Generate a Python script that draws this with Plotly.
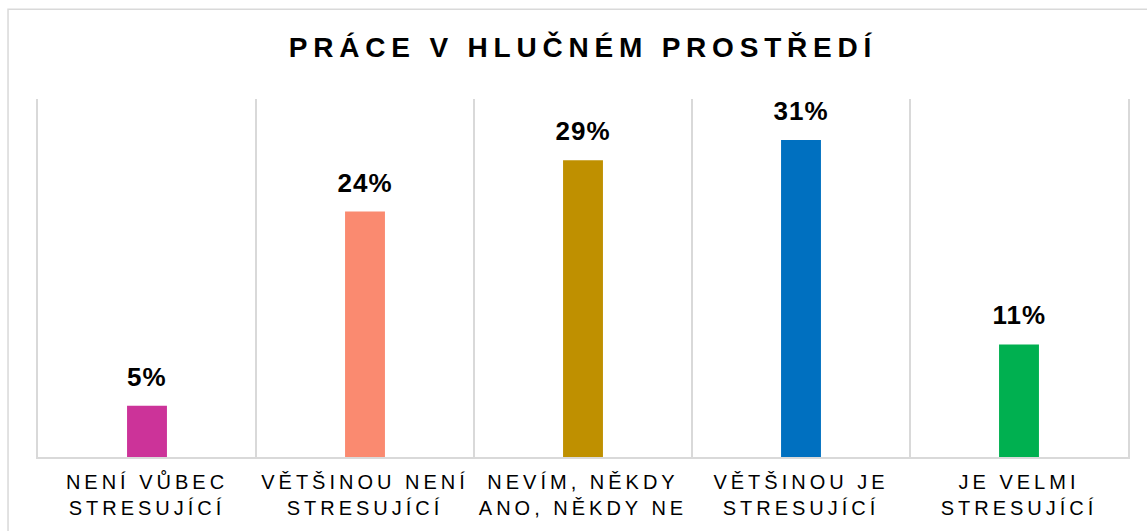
import plotly.graph_objects as go

categories = ["NENÍ VŮBEC<br>STRESUJÍCÍ", "VĚTŠINOU NENÍ<br>STRESUJÍCÍ", "NEVÍM, NĚKDY<br>ANO, NĚKDY NE",
              "VĚTŠINOU JE<br>STRESUJÍCÍ", "JE VELMI<br>STRESUJÍCÍ"]
values = [5, 24, 29, 31, 11]
labels = ["5%", "24%", "29%", "31%", "11%"]
colors = ["#CC3399", "#FA8A70", "#BF9000", "#0070C0", "#00B050"]
title = "PRÁCE V HLUČNÉM PROSTŘEDÍ"

FONT = "Liberation Sans, Arial, Helvetica, sans-serif"
GRID = "#d9d9d9"

fig = go.Figure()
fig.add_trace(go.Bar(x=categories, y=values, marker=dict(color=colors, line=dict(width=0)),
                     hoverinfo="skip"))

for c, v, t in zip(categories, values, labels):
    fig.add_annotation(x=c, y=v, text=t, showarrow=False, yanchor="bottom", yshift=12,
                       font=dict(family=FONT, size=26, color="#000000", weight="bold"))

fig.add_shape(type="rect", xref="paper", yref="paper", x0=-0.0275, x1=1.05, y0=-0.4, y1=1.2507,
              line=dict(color=GRID, width=1.5), fillcolor="rgba(0,0,0,0)", layer="below")

fig.update_layout(
    width=1147, height=531,
    margin=dict(l=38, r=19, t=99, b=70),
    paper_bgcolor="white", plot_bgcolor="white",
    bargap=0.817,
    showlegend=False,
    title=dict(text=title, x=0.5, xref="paper", xanchor="center", y=1 - 47 / 531, yref="container",
               yanchor="middle", font=dict(family=FONT, size=28, color="#000000", weight="bold")),
    font=dict(family=FONT, color="#000000"),
    xaxis=dict(type="category", tickson="boundaries", showgrid=True, gridcolor=GRID, gridwidth=1.5,
               showline=True, linecolor=GRID, linewidth=2, ticks="", range=[-0.5, 4.5],
               ticklabelstandoff=6,
               tickfont=dict(family=FONT, size=20, color="#000000"), fixedrange=True),
    yaxis=dict(range=[0, 35], showgrid=False, zeroline=False, showticklabels=False, ticks="",
               showline=True, mirror=True, linecolor=GRID, linewidth=1.5, fixedrange=True),
)

post = """
var s=document.createElement('style');
s.textContent='html,body{margin:0;padding:0;overflow:hidden}.gtitle{letter-spacing:5.8px}.xtick text{letter-spacing:4px}.annotation-text{letter-spacing:1px}';
document.head.appendChild(s);
"""
fig.write_html("out.html", post_script=post, config={"displayModeBar": False})
